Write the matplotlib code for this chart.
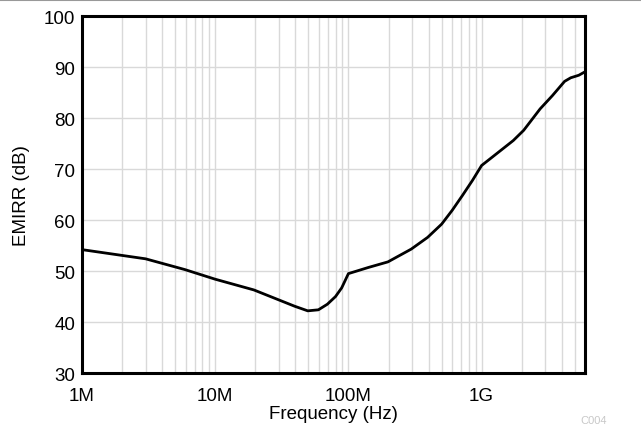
import matplotlib
matplotlib.use("Agg")
import matplotlib.pyplot as plt
from matplotlib.ticker import LogLocator, FixedLocator, NullFormatter
from matplotlib.lines import Line2D

plt.rcParams['font.family'] = ['Liberation Sans', 'DejaVu Sans']

# EMIRR vs frequency
freq_hz = [1e6, 3e6, 5.9e6, 1e7, 1.95e7, 3.95e7, 4.95e7, 5.95e7, 6.95e7, 8.0e7,
           8.9e7, 1e8, 1.41e8, 1.98e8, 2.96e8, 3.93e8, 5.01e8, 6.01e8, 7.17e8,
           8.55e8, 1e9, 1.17e9, 1.73e9, 2.07e9, 2.75e9, 3.4e9, 4.2e9, 4.67e9,
           5.37e9, 6e9]
emirr_db = [54.2, 52.4, 50.3, 48.4, 46.3, 43.1, 42.2, 42.4, 43.5, 45.0,
            46.7, 49.5, 50.7, 51.8, 54.3, 56.6, 59.2, 61.9, 64.8,
            67.8, 70.7, 72.1, 75.6, 77.6, 81.8, 84.4, 87.2, 87.9,
            88.4, 89.1]

x_ticks = [1e6, 1e7, 1e8, 1e9]
x_labels = ['1M', '10M', '100M', '1G']
y_ticks = [30, 40, 50, 60, 70, 80, 90, 100]

fig = plt.figure(figsize=(6.41, 4.27), dpi=100)
ax = fig.add_axes([0.128, 0.124, 0.785, 0.836])

ax.plot(freq_hz, emirr_db, color='black', lw=2.0, solid_joinstyle='round')

ax.set_xscale('log')
ax.set_xlim(1e6, 6e9)
ax.set_ylim(30, 100)
ax.xaxis.set_major_locator(FixedLocator(x_ticks))
ax.set_xticklabels(x_labels)
ax.xaxis.set_minor_locator(LogLocator(base=10, subs=range(2, 10)))
ax.xaxis.set_minor_formatter(NullFormatter())
ax.set_yticks(y_ticks)

ax.grid(True, which='major', color='#d9d9d9', lw=1.0)
ax.grid(True, which='minor', axis='x', color='#d9d9d9', lw=1.0)
ax.set_axisbelow(True)

ax.tick_params(which='both', length=0, labelsize=13.5, colors='black')
ax.tick_params(axis='x', pad=10)
ax.tick_params(axis='y', pad=5)
for s in ax.spines.values():
    s.set_linewidth(2.2)

ax.set_xlabel('Frequency (Hz)', fontsize=13.5, labelpad=1)
ax.set_ylabel('EMIRR (dB)', fontsize=13.5, labelpad=10)

fig.text(0.905, 0.003, 'C004', color='#c8c8c8', fontsize=8, va='bottom')
fig.add_artist(Line2D([0, 1], [0.998, 0.998], color='#999999', lw=1.5,
                      transform=fig.transFigure))

fig.savefig('out.png', dpi=100)
